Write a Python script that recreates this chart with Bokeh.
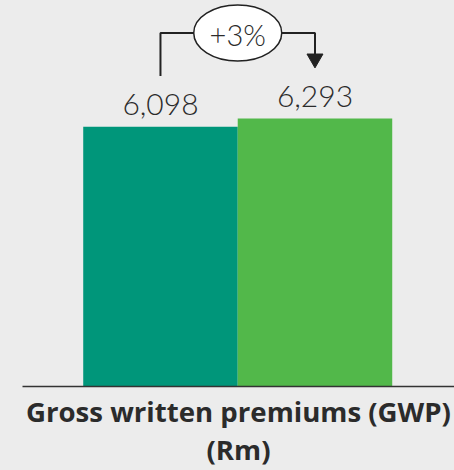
from bokeh.plotting import figure
from bokeh.models import Range1d, FixedTicker, ColumnDataSource
from bokeh.core.properties import value
from bokeh.embed import file_html
from bokeh.resources import INLINE

# ---- data ----
categories = ["Previous year", "Current year"]
values = [6098, 6293]
value_labels = ["6,098", "6,293"]
bar_colors = ["#00967a", "#52b84a"]
change_label = "+3%"
axis_title = "Gross written premiums (GWP)\n(Rm)"

BG = "#ececec"
INK = "#2b2b2b"

x = list(range(len(values)))
FRAME_H = 388
Y_END = 9065.0
px = Y_END / FRAME_H  # data units per pixel

p = figure(width=454, height=470, output_backend="svg", toolbar_location=None,
           x_range=Range1d(-0.893, 1.903), y_range=Range1d(0, Y_END),
           y_axis_location=None, min_border_left=22, min_border_right=0,
           min_border_top=0, min_border_bottom=82,
           background_fill_color=BG, border_fill_color=BG, outline_line_color=None)
p.grid.visible = False

src = ColumnDataSource(dict(x=x, top=values, label=value_labels, color=bar_colors, cat=categories))
p.vbar(x="x", top="top", width=1.0, bottom=0, fill_color="color", line_color=None, source=src)

p.text(x="x", y="top", text="label", source=src, text_align="center", text_baseline="alphabetic",
       y_offset=-22, text_font=value("Lato Light"), text_font_size="30px", text_color=INK)

# bracket connector
gap = 51 * px
top = max(values) + 86 * px
head_center = values[1] + (51 + 9.2) * px
p.line(x=[x[0], x[0], x[1], x[1]], y=[values[0] + gap, top, top, head_center],
       line_color="#222222", line_width=2)
p.scatter(x=[x[1]], y=[head_center], marker="inverted_triangle", size=16,
          fill_color="#222222", line_color="#222222")

mid = (x[0] + x[1]) / 2
p.ellipse(x=[mid], y=[top], width=88, height=56, width_units="screen", height_units="screen",
          fill_color="white", line_color="#222222", line_width=1.5)
p.text(x=[mid], y=[top], text=[change_label], text_align="center", text_baseline="alphabetic",
       y_offset=2, text_font=value("Lato Light"), text_font_size="29px", text_color=INK)

ax = p.xaxis[0]
ax.ticker = FixedTicker(ticks=[])
ax.major_tick_line_color = None
ax.minor_tick_line_color = None
ax.major_label_text_font_size = "0px"
ax.axis_line_color = "#333333"
ax.axis_line_width = 1.5
ax.axis_label = axis_title
ax.axis_label_text_font = "Open Sans"
ax.axis_label_text_font_style = "bold"
ax.axis_label_text_font_size = "27.6px"
ax.axis_label_text_line_height = 1.0
ax.axis_label_text_color = INK
ax.axis_label_standoff = 5

html = file_html(p, INLINE)
html = html.replace("<head>", "<head><style>body{background:%s;}</style>" % BG, 1)
open("out.html", "w").write(html)
